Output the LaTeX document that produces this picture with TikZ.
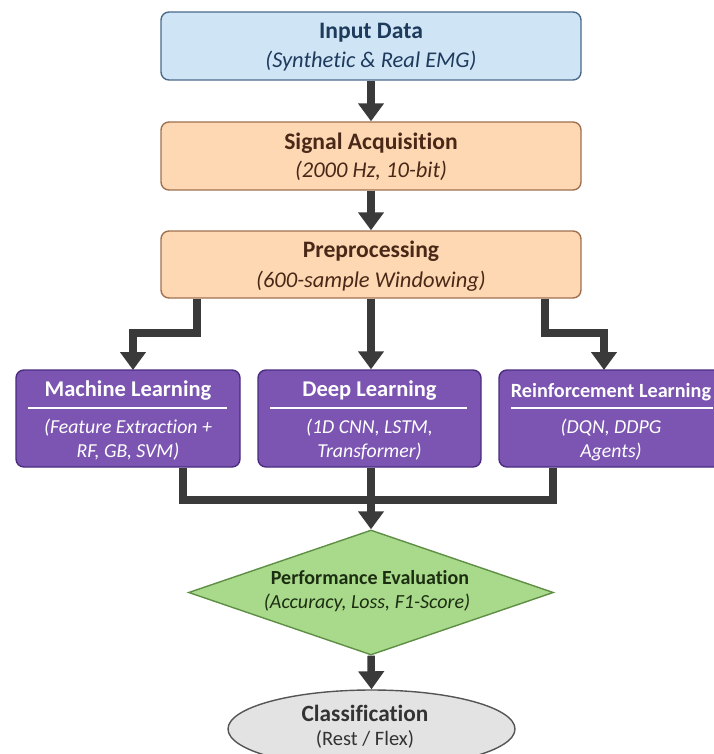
\documentclass[tikz,border=0pt]{standalone}
\usepackage{fontspec}
\setmainfont[Ligatures=NoCommon]{Carlito}
\usetikzlibrary{shapes.geometric,arrows.meta}
\definecolor{bluefill}{HTML}{CFE5F6}
\definecolor{blueline}{HTML}{4A6A8A}
\definecolor{bluetext}{HTML}{1E3A5C}
\definecolor{peachfill}{HTML}{FDD8B3}
\definecolor{peachline}{HTML}{A07050}
\definecolor{peachtext}{HTML}{4A2818}
\definecolor{purfill}{HTML}{7B55B1}
\definecolor{purline}{HTML}{4B2C80}
\definecolor{grnfill}{HTML}{A9D98B}
\definecolor{grnline}{HTML}{5F8F45}
\definecolor{grntext}{HTML}{1C2E12}
\definecolor{grayfill}{HTML}{E3E3E3}
\definecolor{grayline}{HTML}{555555}
\definecolor{graytext}{HTML}{333333}
\definecolor{arrcol}{HTML}{3A3A3A}
\tikzset{
  boxbase/.style={draw, rounded corners=8pt, line width=1.4pt, inner sep=0pt},
  bluebox/.style={boxbase, fill=bluefill, draw=blueline, minimum width=420pt, minimum height=68pt},
  peachbox/.style={boxbase, fill=peachfill, draw=peachline, minimum width=420pt, minimum height=67pt},
  purbox/.style={boxbase, fill=purfill, draw=purline, minimum width=223pt, minimum height=97pt},
  ttl/.style={inner sep=0pt, font=\fontsize{23.6}{28}\selectfont\bfseries},
  sub/.style={inner sep=0pt, font=\fontsize{22.5}{27}\selectfont\itshape},
  ptl/.style={inner sep=0pt, text=white, font=\fontsize{22.5}{27}\selectfont\bfseries},
  psub/.style={inner sep=0pt, text=white, align=center, font=\fontsize{19.8}{24}\selectfont\itshape},
  arr/.style={draw=arrcol, line width=7.5pt, line join=miter, -{Triangle[width=25pt,length=18pt]}},
  ln/.style={draw=arrcol, line width=7.5pt, line join=miter, line cap=butt}
}
\begin{document}
\begin{tikzpicture}[x=1pt,y=-1pt]
\useasboundingbox (0,0) rectangle (713,754);
% boxes
\node[bluebox] (inp) at (371,46) {};
\node[ttl, text=bluetext] (inpT) at (371,33) {Input Data};
\node[sub, text=bluetext] (inpS) at (371,61) {(Synthetic \& Real EMG)};

\node[peachbox, minimum height=68pt] (sig) at (371,156) {};
\node[ttl, text=peachtext] (sigT) at (371,143) {Signal Acquisition};
\node[sub, text=peachtext] (sigS) at (371,171) {(2000 Hz, 10-bit)};

\node[peachbox] (pre) at (371,264.5) {};
\node[ttl, text=peachtext] (preT) at (371,251) {Preprocessing};
\node[sub, text=peachtext] (preS) at (371,281) {(600-sample Windowing)};

\node[purbox, minimum width=224pt] (ml) at (128,418.5) {};
\node[ptl] (mlT) at (128,391) {Machine Learning};
\draw[white, line width=1.2pt] (28,408) -- (227,408);
\node[psub] (mlS) at (128,440) {(Feature Extraction +\\RF, GB, SVM)};

\node[purbox] (dl) at (369.5,418.5) {};
\node[ptl] (dlT) at (369.5,391) {Deep Learning};
\draw[white, line width=1.2pt] (270,408) -- (467,408);
\node[psub] (dlS) at (369.5,440) {(1D CNN, LSTM,\\Transformer)};

\node[purbox] (rl) at (610.5,418.5) {};
\node[ptl, font=\fontsize{20.2}{24}\selectfont\bfseries] (rlT) at (611,392) {Reinforcement Learning};
\draw[white, line width=1.2pt] (511,408) -- (713,408);
\node[psub] (rlS) at (611,440) {(DQN, DDPG\\Agents)};

\node[diamond, draw=grnline, fill=grnfill, line width=1.4pt, inner sep=0pt,
      minimum width=365pt, minimum height=125pt] (ev) at (371,592.5) {};
\node[inner sep=0pt, text=grntext, font=\fontsize{20}{24}\selectfont\bfseries] (evT) at (370,578) {Performance Evaluation};
\node[inner sep=0pt, text=grntext, font=\fontsize{20}{24}\selectfont\itshape] (evS) at (367,603) {(Accuracy, Loss, F1-Score)};

\node[ellipse, draw=grayline, fill=grayfill, line width=1.4pt, inner sep=0pt,
      minimum width=287pt, minimum height=78pt] (cl) at (371.5,729) {};
\node[inner sep=0pt, text=graytext, font=\fontsize{23.3}{28}\selectfont\bfseries] (clT) at (365,713) {Classification};
\node[inner sep=0pt, text=graytext, font=\fontsize{20.5}{24}\selectfont] (clS) at (365,739) {(Rest / Flex)};

% connectors
\draw[arr] (inp.south) -- (sig.north);
\draw[arr] (sig.south) -- (pre.north);

\coordinate (bl) at (197,333);
\coordinate (br) at (545,333);
\coordinate (mlin) at (133,370);
\coordinate (rlin) at (604,370);
\draw[arr] (pre.south -| bl) -- (bl) -| (mlin);
\draw[arr] (pre.south) -- (pre.south |- dl.north);
\draw[arr] (pre.south -| br) -- (br) -| (rlin);

\coordinate (jl) at (183,500);
\coordinate (jr) at (553,500);
\coordinate (jm) at (371,500);
\draw[ln] (ml.south -| jl) -- (jl) -- (jr) -- (rl.south -| jr);
\draw[ln] (dl.south -| jm) -- (jm);
\draw[arr] ([yshift=-3.75pt]jm) -- (ev.north);
\draw[arr] (ev.south) -- (cl.north);
\end{tikzpicture}
\end{document}
